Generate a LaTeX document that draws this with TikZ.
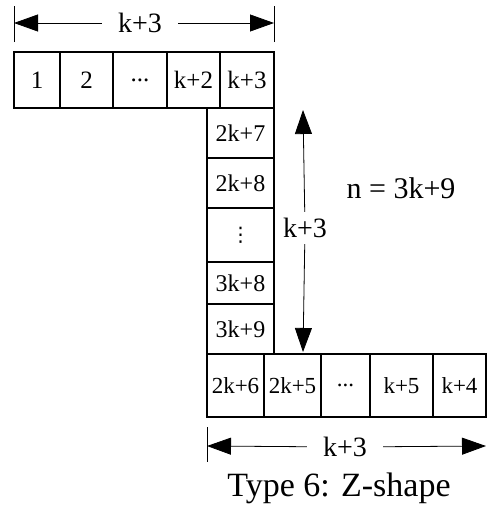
\documentclass[tikz,border=0pt]{standalone}
\usepackage{fontspec}
\setmainfont{Liberation Serif}
\newfontfamily\symfont{DejaVu Sans}
\usetikzlibrary{arrows.meta,positioning}

\begin{document}
\begin{tikzpicture}[
  x=1pt, y=-1pt,
  node distance=0pt,
  cell/.style={rectangle, draw=black, line width=1.2pt, inner sep=0pt, outer sep=0pt},
  toprow/.style={cell, minimum height=56pt, font=\fontsize{25}{28}\selectfont},
  colcell/.style={cell, minimum width=67pt, font=\fontsize{24}{27}\selectfont},
  botrow/.style={cell, minimum height=63pt, font=\fontsize{23}{26}\selectfont},
  dim/.style={inner xsep=16pt, inner ysep=6pt, font=\fontsize{28}{32}\selectfont},
  tick/.style={line width=1pt},
  arr/.style={-{Triangle[length=24pt,width=17pt]}, line width=0.8pt}
]
\useasboundingbox (0,0) rectangle (488,514);
% top row
\node[toprow, minimum width=46pt, anchor=north west] (c1) at (14,52) {1};
\node[toprow, minimum width=53pt, right=of c1] (c2) {2};
\node[toprow, minimum width=54pt, right=of c2] (c3) {...};
\node[toprow, minimum width=53pt, right=of c3] (c4) {k+2};
\node[toprow, minimum width=54pt, right=of c4] (c5) {k+3};
% column
\node[colcell, minimum height=50pt, anchor=north east] (v1) at (c5.south east) {2k+7};
\node[colcell, minimum height=50pt, below=of v1] (v2) {2k+8};
\node[colcell, minimum height=54pt, below=of v2, font=\fontsize{20}{24}\symfont] (v3) {⋮};
\node[colcell, minimum height=42pt, below=of v3] (v4) {3k+8};
\node[colcell, minimum height=50pt, below=of v4] (v5) {3k+9};
% bottom row
\node[botrow, minimum width=57pt, anchor=north west] (b1) at (v5.south west) {2k+6};
\node[botrow, minimum width=57pt, right=of b1] (b2) {2k+5};
\node[botrow, minimum width=49pt, right=of b2] (b3) {...};
\node[botrow, minimum width=63pt, right=of b3] (b4) {k+5};
\node[botrow, minimum width=53pt, right=of b4] (b5) {k+4};
% dimensions
\coordinate (tl) at ([yshift=29pt]c1.north west);
\coordinate (tr) at ([yshift=29pt]c5.north east);
\node[dim] (ktop) at (140,23) {k+3};
\draw[tick] ([yshift=10pt]c1.north west) -- ([yshift=46pt]c1.north west);
\draw[tick] ([yshift=10pt]c5.north east) -- ([yshift=46pt]c5.north east);
\draw[arr] (ktop) -- (tl);
\draw[arr] (ktop) -- (tr);
\coordinate (vt) at (303,110);
\coordinate (vb) at (303,352);
\node[dim] (kmid) at (305,228) {k+3};
\draw[arr] (kmid) -- (vt);
\draw[arr] (kmid) -- (vb);
\coordinate (bl) at ([yshift=-29pt]b1.south west);
\coordinate (br) at ([yshift=-29pt]b5.south east);
\node[dim] (kbot) at (345,447) {k+3};
\draw[tick] ([yshift=-10pt]b1.south west) -- ([yshift=-45pt]b1.south west);
\draw[arr] (kbot) -- (bl);
\draw[arr] (kbot) -- (br);
% labels
\node[font=\fontsize{30}{34}\selectfont] (total) at (401,188) {n = 3k+9};
\node[font=\fontsize{34}{38}\selectfont] (caption) at (339,488) {Type 6: Z-shape};
\end{tikzpicture}
\end{document}
